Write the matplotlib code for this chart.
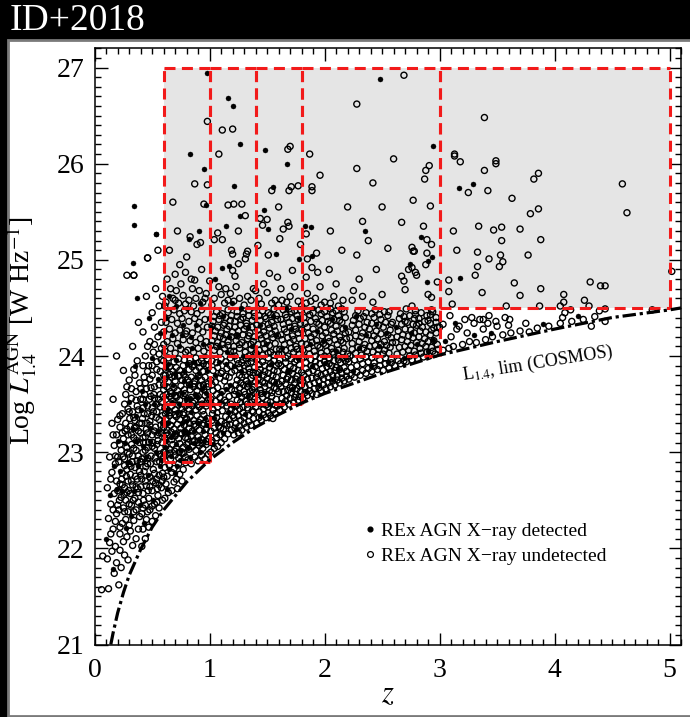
import matplotlib
matplotlib.use("Agg")
import matplotlib.pyplot as plt
from matplotlib.patches import Rectangle
from matplotlib.lines import Line2D

plt.rcParams['font.family'] = ['Liberation Serif', 'DejaVu Serif']
plt.rcParams['mathtext.fontset'] = 'stix'

# ---- radio-excess AGN: (redshift, log L1.4GHz) pairs, grouped by redshift strip ----
# X-ray undetected
und_z00 = [(0.07, 21.92), (0.11, 21.89), (0.06, 21.57), (0.12, 21.58), (0.17, 21.74), (0.15, 21.97),
           (0.19, 21.85), (0.13, 22.06), (0.18, 22.02), (0.16, 22.2), (0.12, 22.31), (0.19, 22.36),
           (0.14, 22.46), (0.17, 22.57), (0.11, 22.63), (0.19, 22.7), (0.15, 22.79), (0.18, 22.88),
           (0.13, 22.95), (0.17, 23.07), (0.19, 23.18), (0.15, 23.3), (0.19, 24.0), (0.16, 23.55),
           (0.2, 22.45), (0.2, 22.95)]
und_z02 = [(0.21, 21.62), (0.23, 21.8), (0.26, 21.93), (0.22, 21.98), (0.29, 21.88), (0.25, 22.07),
           (0.28, 22.12), (0.33, 22.03), (0.36, 22.1), (0.31, 22.18), (0.22, 22.15), (0.24, 22.26),
           (0.27, 22.3), (0.3, 22.24), (0.34, 22.29), (0.38, 22.2), (0.39, 22.33), (0.21, 22.4),
           (0.25, 22.42), (0.29, 22.38), (0.32, 22.45), (0.36, 22.4), (0.23, 22.53), (0.27, 22.5),
           (0.31, 22.57), (0.35, 22.52), (0.38, 22.58), (0.22, 22.67), (0.26, 22.63), (0.29, 22.7),
           (0.33, 22.66), (0.37, 22.72), (0.4, 22.64), (0.24, 22.78), (0.28, 22.82), (0.31, 22.77),
           (0.35, 22.84), (0.39, 22.8), (0.21, 22.9), (0.26, 22.93), (0.3, 22.88), (0.33, 22.96),
           (0.37, 22.91), (0.23, 23.02), (0.28, 23.05), (0.32, 23.08), (0.36, 23.02), (0.39, 23.1),
           (0.25, 23.14), (0.29, 23.18), (0.34, 23.15), (0.38, 23.22), (0.22, 23.26), (0.27, 23.3),
           (0.31, 23.27), (0.35, 23.33), (0.39, 23.3), (0.24, 23.4), (0.29, 23.45), (0.33, 23.42),
           (0.37, 23.48), (0.27, 23.6), (0.32, 23.56), (0.36, 23.63), (0.4, 23.55), (0.3, 23.75),
           (0.35, 23.8), (0.39, 23.72), (0.28, 24.84), (0.34, 24.84), (0.38, 24.35), (0.33, 24.1),
           (0.37, 23.95), (0.25, 23.85),
           (0.215, 22.5), (0.255, 22.56), (0.295, 22.6), (0.335, 22.5), (0.375, 22.62), (0.235, 22.72),
           (0.275, 22.75), (0.315, 22.85), (0.355, 22.75), (0.395, 22.9), (0.245, 22.95), (0.285, 23.0),
           (0.325, 22.9), (0.365, 23.12), (0.265, 23.22), (0.305, 23.35), (0.345, 23.25)]
und_z04 = [(0.41, 22.02), (0.44, 22.1), (0.47, 22.22), (0.42, 22.2), (0.5, 22.28), (0.53, 22.34),
           (0.45, 22.3), (0.48, 22.4), (0.41, 22.36), (0.56, 22.42), (0.52, 22.46), (0.44, 22.45),
           (0.59, 22.5), (0.47, 22.52), (0.55, 22.55), (0.42, 22.57), (0.5, 22.6), (0.58, 22.63),
           (0.45, 22.65), (0.53, 22.68), (0.41, 22.72), (0.48, 22.74), (0.56, 22.76), (0.43, 22.8),
           (0.51, 22.82), (0.59, 22.78), (0.46, 22.88), (0.54, 22.9), (0.41, 22.93), (0.49, 22.96),
           (0.57, 22.98), (0.44, 23.02), (0.52, 23.04), (0.6, 23.0), (0.47, 23.1), (0.55, 23.12),
           (0.42, 23.15), (0.5, 23.18), (0.58, 23.2), (0.45, 23.24), (0.53, 23.26), (0.41, 23.3),
           (0.48, 23.32), (0.56, 23.34), (0.43, 23.4), (0.51, 23.42), (0.59, 23.38), (0.46, 23.48),
           (0.54, 23.5), (0.42, 23.55), (0.49, 23.58), (0.57, 23.6), (0.45, 23.66), (0.52, 23.68),
           (0.6, 23.7), (0.43, 23.78), (0.5, 23.8), (0.57, 23.84), (0.47, 23.9), (0.54, 23.94),
           (0.44, 24.0), (0.51, 24.04), (0.58, 24.08), (0.48, 24.15), (0.55, 24.2), (0.52, 24.3),
           (0.58, 24.35), (0.5, 24.45), (0.56, 24.52), (0.45, 24.62), (0.53, 24.7), (0.59, 24.62),
           (0.46, 25.02), (0.55, 25.1), (0.42, 24.25), (0.46, 23.2), (0.54, 22.72), (0.49, 23.67),
           (0.57, 23.47),
           (0.405, 22.9), (0.445, 22.85), (0.485, 22.88), (0.525, 22.94), (0.565, 22.9), (0.425, 23.1),
           (0.465, 23.05), (0.505, 23.1), (0.545, 23.18), (0.585, 23.1), (0.415, 23.35), (0.455, 23.3),
           (0.495, 23.38), (0.535, 23.36), (0.575, 23.28), (0.435, 23.6), (0.475, 23.55), (0.515, 23.6),
           (0.555, 23.55), (0.595, 23.58), (0.425, 22.5), (0.465, 22.6), (0.505, 22.7), (0.545, 22.62),
           (0.585, 22.7)]
und_lowz = [(0.14, 22.15), (0.18, 22.28), (0.22, 22.22), (0.26, 22.38), (0.3, 22.46), (0.34, 22.38),
            (0.38, 22.48), (0.42, 22.42), (0.46, 22.38), (0.5, 22.44), (0.54, 22.48), (0.16, 22.4),
            (0.2, 22.6), (0.24, 22.66), (0.28, 22.58), (0.32, 22.7), (0.36, 22.64), (0.4, 22.76),
            (0.44, 22.7), (0.48, 22.64), (0.52, 22.78), (0.56, 22.66), (0.6, 22.74), (0.14, 22.72),
            (0.18, 22.96), (0.22, 23.08), (0.26, 22.86), (0.3, 22.98), (0.34, 23.04), (0.38, 22.96),
            (0.42, 23.0), (0.46, 22.94), (0.5, 23.06), (0.54, 23.08), (0.58, 22.96), (0.16, 23.18),
            (0.2, 23.34), (0.24, 23.2), (0.28, 23.24), (0.32, 23.18), (0.36, 23.26), (0.4, 23.2),
            (0.44, 23.16), (0.48, 23.28), (0.52, 23.22), (0.56, 23.2), (0.6, 23.3), (0.22, 23.38),
            (0.26, 23.5), (0.3, 23.42), (0.34, 23.36), (0.38, 23.44), (0.42, 23.46), (0.46, 23.4),
            (0.5, 23.46), (0.54, 23.42), (0.58, 23.52), (0.28, 23.68), (0.32, 23.66), (0.36, 23.54),
            (0.4, 23.66), (0.44, 23.72), (0.48, 23.76), (0.52, 23.56), (0.56, 23.7), (0.6, 23.8),
            (0.34, 23.86), (0.42, 23.9), (0.46, 23.84), (0.5, 23.9), (0.54, 23.86), (0.58, 23.96),
            (0.46, 24.1), (0.52, 24.12), (0.56, 24.02), (0.6, 24.12)]
und_z06 = [(0.61, 22.52), (0.64, 22.58), (0.62, 22.67), (0.67, 22.6), (0.69, 22.69), (0.63, 22.75),
           (0.67, 22.79), (0.71, 22.72), (0.74, 22.77), (0.61, 22.84), (0.65, 22.86), (0.69, 22.83),
           (0.73, 22.88), (0.77, 22.82), (0.79, 22.89), (0.76, 22.7), (0.72, 22.62),
           (0.6, 22.95), (0.63, 22.98), (0.66, 22.93), (0.7, 22.97), (0.73, 22.94), (0.76, 22.99),
           (0.79, 22.95), (0.62, 23.06), (0.65, 23.03), (0.68, 23.08), (0.71, 23.04), (0.74, 23.09),
           (0.77, 23.05), (0.8, 23.08), (0.61, 23.15), (0.64, 23.18), (0.67, 23.13), (0.7, 23.17),
           (0.73, 23.14), (0.76, 23.19), (0.79, 23.15), (0.6, 23.26), (0.63, 23.23), (0.66, 23.28),
           (0.69, 23.24), (0.72, 23.29), (0.75, 23.25), (0.78, 23.28), (0.62, 23.35), (0.65, 23.38),
           (0.68, 23.33), (0.71, 23.37), (0.74, 23.34), (0.77, 23.39), (0.8, 23.35), (0.61, 23.46),
           (0.64, 23.43), (0.67, 23.48), (0.7, 23.44), (0.73, 23.49), (0.76, 23.45), (0.79, 23.48),
           (0.62, 23.55), (0.65, 23.58), (0.68, 23.53), (0.71, 23.57), (0.74, 23.54), (0.77, 23.59),
           (0.6, 23.65), (0.63, 23.68), (0.66, 23.63), (0.69, 23.67), (0.72, 23.64), (0.75, 23.69),
           (0.78, 23.65), (0.61, 23.76), (0.64, 23.73), (0.67, 23.78), (0.7, 23.74), (0.73, 23.79),
           (0.76, 23.75), (0.79, 23.78), (0.62, 23.86), (0.65, 23.89), (0.68, 23.84), (0.71, 23.88),
           (0.74, 23.85), (0.77, 23.9), (0.6, 23.95), (0.64, 23.98), (0.69, 23.94), (0.73, 23.97),
           (0.78, 23.96), (0.61, 24.05), (0.66, 24.08), (0.7, 24.03), (0.75, 24.07), (0.79, 24.04),
           (0.63, 24.15), (0.68, 24.18), (0.72, 24.13), (0.77, 24.17), (0.6, 24.25), (0.65, 24.28),
           (0.7, 24.24), (0.74, 24.27), (0.79, 24.23), (0.62, 24.35), (0.67, 24.38), (0.72, 24.34),
           (0.76, 24.39), (0.64, 24.45), (0.69, 24.48), (0.74, 24.44), (0.78, 24.47),
           (0.62, 24.56), (0.68, 24.6), (0.73, 24.55), (0.66, 24.7), (0.71, 24.68), (0.77, 24.63),
           (0.63, 24.8), (0.7, 24.85), (0.65, 25.1), (0.72, 25.3), (0.68, 25.6),
           (0.615, 23.0), (0.655, 22.99), (0.695, 23.01), (0.735, 23.0), (0.775, 22.99),
           (0.625, 23.2), (0.665, 23.21), (0.705, 23.19), (0.745, 23.2), (0.785, 23.21),
           (0.615, 23.4), (0.655, 23.41), (0.695, 23.39), (0.735, 23.4), (0.775, 23.41),
           (0.625, 23.6), (0.665, 23.61), (0.705, 23.59), (0.745, 23.6), (0.785, 23.61),
           (0.615, 23.8), (0.655, 23.81), (0.695, 23.79), (0.735, 23.8), (0.775, 23.81)]
und_z08 = [(0.81, 22.92), (0.84, 22.88), (0.87, 22.95), (0.9, 22.91), (0.93, 22.97), (0.96, 22.93),
           (0.99, 22.98), (0.82, 23.03), (0.85, 23.06), (0.88, 23.02), (0.91, 23.07), (0.94, 23.04),
           (0.97, 23.08), (0.81, 23.14), (0.84, 23.17), (0.87, 23.12), (0.9, 23.16), (0.93, 23.13),
           (0.96, 23.18), (0.99, 23.14), (0.82, 23.25), (0.85, 23.22), (0.88, 23.27), (0.91, 23.23),
           (0.94, 23.28), (0.97, 23.24), (0.8, 23.34), (0.83, 23.37), (0.86, 23.33), (0.89, 23.38),
           (0.92, 23.34), (0.95, 23.39), (0.98, 23.35), (0.82, 23.45), (0.85, 23.48), (0.88, 23.44),
           (0.91, 23.47), (0.94, 23.43), (0.97, 23.48), (0.81, 23.54), (0.84, 23.57), (0.87, 23.53),
           (0.9, 23.58), (0.93, 23.54), (0.96, 23.59), (0.99, 23.55), (0.83, 23.65), (0.86, 23.68),
           (0.89, 23.64), (0.92, 23.69), (0.95, 23.65), (0.98, 23.68), (0.81, 23.75), (0.84, 23.78),
           (0.87, 23.74), (0.9, 23.79), (0.93, 23.75), (0.96, 23.78), (0.82, 23.86), (0.85, 23.89),
           (0.88, 23.85), (0.91, 23.88), (0.94, 23.84), (0.97, 23.9), (0.83, 23.96), (0.88, 23.98),
           (0.93, 23.95), (0.98, 23.97), (0.81, 24.06), (0.86, 24.04), (0.9, 24.08), (0.95, 24.05),
           (0.99, 24.09), (0.83, 24.16), (0.88, 24.14), (0.92, 24.18), (0.97, 24.15), (0.8, 24.26),
           (0.85, 24.24), (0.9, 24.28), (0.94, 24.25), (0.98, 24.3), (0.82, 24.36), (0.87, 24.39),
           (0.91, 24.35), (0.96, 24.38), (0.84, 24.46), (0.89, 24.44), (0.93, 24.48),
           (0.82, 24.58), (0.88, 24.6), (0.94, 24.56), (0.85, 24.7), (0.91, 24.68), (0.97, 24.65),
           (0.93, 24.9),
           (0.815, 23.1), (0.855, 23.11), (0.895, 23.1), (0.935, 23.09), (0.975, 23.11),
           (0.825, 23.3), (0.865, 23.29), (0.905, 23.31), (0.945, 23.3), (0.985, 23.29),
           (0.815, 23.5), (0.855, 23.51), (0.895, 23.49), (0.935, 23.5), (0.975, 23.51),
           (0.825, 23.7), (0.865, 23.71), (0.905, 23.69), (0.945, 23.7), (0.985, 23.71),
           (0.825, 23.92), (0.865, 23.91), (0.905, 23.93), (0.945, 23.92), (0.985, 23.91)]
und_z10 = [(1.01, 23.0), (1.04, 23.04), (1.07, 23.06), (1.1, 23.1), (1.02, 23.12), (1.06, 23.15),
           (1.09, 23.18), (1.13, 23.14), (1.16, 23.19), (1.01, 23.22), (1.04, 23.25), (1.08, 23.27),
           (1.12, 23.24), (1.15, 23.28), (1.19, 23.23), (1.02, 23.33), (1.06, 23.36), (1.1, 23.32),
           (1.14, 23.37), (1.17, 23.34), (1.2, 23.38), (1.03, 23.44), (1.07, 23.47), (1.11, 23.43),
           (1.15, 23.48), (1.19, 23.45), (1.01, 23.55), (1.05, 23.53), (1.09, 23.57), (1.13, 23.54),
           (1.17, 23.58), (1.03, 23.64), (1.07, 23.67), (1.11, 23.63), (1.15, 23.68), (1.19, 23.65),
           (1.01, 23.75), (1.05, 23.73), (1.09, 23.77), (1.13, 23.74), (1.17, 23.78), (1.03, 23.85),
           (1.07, 23.88), (1.11, 23.84), (1.15, 23.87), (1.19, 23.83), (1.02, 23.95), (1.06, 23.93),
           (1.1, 23.97), (1.14, 23.94), (1.18, 23.98), (1.04, 24.06), (1.09, 24.04), (1.13, 24.08),
           (1.18, 24.05), (1.02, 24.16), (1.07, 24.14), (1.12, 24.18), (1.16, 24.15), (1.05, 24.26),
           (1.1, 24.24), (1.15, 24.28), (1.2, 24.25), (1.03, 24.36), (1.08, 24.38), (1.13, 24.34),
           (1.18, 24.37), (1.06, 24.46), (1.11, 24.44), (1.16, 24.48), (1.04, 24.6), (1.1, 24.64),
           (1.16, 24.58), (1.08, 24.72), (1.14, 24.7),
           (1.015, 23.1), (1.055, 23.2), (1.095, 23.25), (1.135, 23.3), (1.175, 23.29), (1.025, 23.4),
           (1.065, 23.41), (1.105, 23.5), (1.145, 23.52), (1.185, 23.5), (1.02, 23.7), (1.06, 23.6),
           (1.1, 23.82), (1.14, 23.79), (1.18, 23.9)]
und_z12 = [(1.21, 23.18), (1.25, 23.2), (1.28, 23.23), (1.32, 23.26), (1.36, 23.28), (1.23, 23.3),
           (1.27, 23.33), (1.3, 23.36), (1.34, 23.32), (1.38, 23.35), (1.22, 23.42), (1.26, 23.45),
           (1.29, 23.41), (1.33, 23.46), (1.37, 23.43), (1.4, 23.47), (1.24, 23.54), (1.28, 23.57),
           (1.31, 23.53), (1.35, 23.58), (1.39, 23.55), (1.22, 23.64), (1.26, 23.67), (1.3, 23.63),
           (1.33, 23.68), (1.37, 23.65), (1.24, 23.75), (1.28, 23.78), (1.32, 23.74), (1.36, 23.77),
           (1.4, 23.73), (1.22, 23.85), (1.26, 23.88), (1.3, 23.84), (1.34, 23.87), (1.38, 23.83),
           (1.24, 23.96), (1.28, 23.93), (1.32, 23.97), (1.36, 23.94), (1.21, 24.05), (1.26, 24.08),
           (1.31, 24.04), (1.36, 24.07), (1.4, 24.03), (1.23, 24.16), (1.28, 24.14), (1.33, 24.18),
           (1.38, 24.15), (1.25, 24.26), (1.3, 24.28), (1.35, 24.24), (1.22, 24.36), (1.27, 24.38),
           (1.32, 24.34), (1.37, 24.37), (1.24, 24.46), (1.29, 24.44), (1.34, 24.48), (1.39, 24.45),
           (1.26, 24.6), (1.33, 24.62), (1.38, 24.7), (1.23, 24.72),
           (1.215, 23.6), (1.255, 23.61), (1.295, 23.7), (1.335, 23.71), (1.375, 23.8), (1.22, 24.0),
           (1.26, 23.8), (1.3, 23.9), (1.34, 24.0), (1.38, 23.62),
           (1.22, 23.25), (1.26, 23.27), (1.3, 23.3), (1.34, 23.38), (1.38, 23.42), (1.21, 23.36),
           (1.25, 23.38), (1.29, 23.47), (1.33, 23.5), (1.37, 23.52), (1.23, 23.48), (1.27, 23.52),
           (1.31, 23.6), (1.35, 23.63), (1.39, 23.68), (1.23, 23.7), (1.27, 23.72), (1.31, 23.8),
           (1.35, 23.83), (1.39, 23.88), (1.25, 23.92), (1.29, 23.96), (1.33, 23.92), (1.37, 23.98)]
und_z10_hi = [(1.01, 24.11), (1.06, 24.1), (1.11, 24.12), (1.16, 24.11), (1.21, 24.1), (1.26, 24.12),
              (1.31, 24.11), (1.36, 24.12), (1.04, 24.21), (1.09, 24.2), (1.14, 24.22), (1.19, 24.2),
              (1.24, 24.21), (1.29, 24.22), (1.34, 24.21), (1.39, 24.2), (1.02, 24.31), (1.07, 24.3),
              (1.12, 24.32), (1.17, 24.31), (1.22, 24.3), (1.27, 24.32), (1.32, 24.31), (1.37, 24.3),
              (1.04, 24.41), (1.09, 24.42), (1.14, 24.4), (1.19, 24.42), (1.24, 24.41), (1.29, 24.4),
              (1.34, 24.42), (1.39, 24.41)]
und_z14 = [(1.41, 23.3), (1.45, 23.33), (1.49, 23.36), (1.53, 23.38), (1.57, 23.4), (1.43, 23.42),
           (1.47, 23.45), (1.51, 23.47), (1.55, 23.44), (1.59, 23.48), (1.42, 23.54), (1.46, 23.57),
           (1.5, 23.53), (1.54, 23.58), (1.58, 23.55), (1.44, 23.65), (1.48, 23.68), (1.52, 23.64),
           (1.56, 23.67), (1.6, 23.63), (1.42, 23.76), (1.46, 23.73), (1.5, 23.77), (1.54, 23.74),
           (1.58, 23.78), (1.44, 23.86), (1.48, 23.84), (1.52, 23.88), (1.56, 23.85), (1.41, 23.96),
           (1.46, 23.94), (1.51, 23.98), (1.56, 23.95), (1.6, 23.92), (1.43, 24.06), (1.48, 24.08),
           (1.53, 24.04), (1.58, 24.07), (1.45, 24.18), (1.5, 24.15), (1.55, 24.19), (1.42, 24.27),
           (1.47, 24.25), (1.52, 24.29), (1.57, 24.26), (1.44, 24.37), (1.49, 24.39), (1.54, 24.35),
           (1.59, 24.38), (1.46, 24.47), (1.51, 24.45), (1.56, 24.49), (1.43, 24.6), (1.5, 24.66),
           (1.57, 24.58), (1.47, 24.75),
           (1.43, 23.36), (1.47, 23.39), (1.51, 23.41), (1.55, 23.35), (1.45, 23.5), (1.49, 23.49),
           (1.53, 23.52), (1.57, 23.49), (1.41, 23.62), (1.45, 23.61), (1.5, 23.6), (1.54, 23.62),
           (1.58, 23.66), (1.43, 23.7), (1.48, 23.72), (1.52, 23.7), (1.56, 23.73), (1.6, 23.71),
           (1.42, 23.83), (1.47, 23.8), (1.51, 23.82), (1.55, 23.8), (1.59, 23.84), (1.43, 23.91),
           (1.48, 23.9), (1.53, 23.92), (1.58, 23.9), (1.41, 24.02), (1.46, 24.01), (1.51, 24.03),
           (1.56, 24.01), (1.6, 24.02), (1.42, 24.12), (1.47, 24.13), (1.52, 24.11), (1.57, 24.13),
           (1.44, 24.22), (1.49, 24.21), (1.54, 24.23), (1.59, 24.21), (1.41, 24.32), (1.46, 24.31),
           (1.51, 24.33), (1.56, 24.31), (1.43, 24.42), (1.48, 24.41), (1.53, 24.43), (1.58, 24.42)]
und_z16 = [(1.61, 23.44), (1.65, 23.47), (1.69, 23.5), (1.73, 23.52), (1.77, 23.54), (1.63, 23.56),
           (1.67, 23.59), (1.71, 23.62), (1.75, 23.6), (1.79, 23.63), (1.62, 23.68), (1.66, 23.71),
           (1.7, 23.67), (1.74, 23.72), (1.78, 23.69), (1.64, 23.8), (1.68, 23.78), (1.72, 23.82),
           (1.76, 23.79), (1.8, 23.83), (1.62, 23.9), (1.66, 23.93), (1.7, 23.89), (1.74, 23.94),
           (1.78, 23.91), (1.63, 24.02), (1.68, 24.0), (1.73, 24.04), (1.78, 24.02), (1.65, 24.12),
           (1.7, 24.14), (1.75, 24.1), (1.8, 24.13), (1.62, 24.22), (1.67, 24.25), (1.72, 24.21),
           (1.77, 24.24), (1.64, 24.33), (1.69, 24.35), (1.74, 24.31), (1.79, 24.34), (1.66, 24.43),
           (1.71, 24.46), (1.76, 24.42), (1.63, 24.58), (1.7, 24.62), (1.77, 24.57), (1.74, 24.72),
           (1.62, 23.5), (1.66, 23.53), (1.7, 23.56), (1.74, 23.57), (1.78, 23.58), (1.64, 23.63),
           (1.68, 23.64), (1.72, 23.67), (1.76, 23.66), (1.8, 23.7), (1.63, 23.74), (1.67, 23.76),
           (1.71, 23.75), (1.75, 23.76), (1.79, 23.75), (1.65, 23.86), (1.69, 23.84), (1.73, 23.87),
           (1.77, 23.85), (1.61, 23.96), (1.66, 23.98), (1.71, 23.97), (1.76, 23.96), (1.8, 23.98),
           (1.61, 24.07), (1.66, 24.06), (1.71, 24.08), (1.76, 24.07), (1.63, 24.17), (1.68, 24.19),
           (1.73, 24.17), (1.78, 24.18), (1.65, 24.28), (1.7, 24.3), (1.75, 24.28), (1.8, 24.27),
           (1.62, 24.38), (1.67, 24.4), (1.72, 24.39), (1.77, 24.38), (1.64, 24.48), (1.69, 24.49),
           (1.74, 24.47), (1.79, 24.48)]
und_z18 = [(1.81, 23.56), (1.85, 23.59), (1.89, 23.61), (1.93, 23.6), (1.97, 23.64), (2.01, 23.66),
           (2.05, 23.68), (2.09, 23.7), (2.13, 23.72), (2.17, 23.74), (1.83, 23.68), (1.87, 23.7),
           (1.91, 23.72), (1.95, 23.74), (1.99, 23.76), (2.03, 23.78), (2.07, 23.8), (2.11, 23.79),
           (2.15, 23.82), (2.19, 23.84), (1.82, 23.8), (1.86, 23.83), (1.9, 23.85), (1.94, 23.82),
           (1.98, 23.87), (2.02, 23.89), (2.06, 23.9), (2.1, 23.88), (2.14, 23.93), (2.18, 23.95),
           (1.84, 23.93), (1.88, 23.96), (1.92, 23.94), (1.96, 23.98), (2.0, 24.0), (2.04, 23.97),
           (2.08, 24.02), (2.12, 24.0), (2.16, 24.04), (2.2, 24.02), (1.81, 24.06), (1.86, 24.08),
           (1.91, 24.05), (1.96, 24.09), (2.01, 24.11), (2.06, 24.08), (2.11, 24.12), (2.16, 24.14),
           (1.83, 24.18), (1.88, 24.2), (1.93, 24.16), (1.98, 24.21), (2.03, 24.19), (2.08, 24.23),
           (2.13, 24.2), (2.18, 24.24), (1.85, 24.3), (1.9, 24.28), (1.95, 24.33), (2.0, 24.3),
           (2.05, 24.34), (2.1, 24.31), (2.15, 24.35), (1.82, 24.4), (1.87, 24.43), (1.92, 24.39),
           (1.97, 24.44), (2.02, 24.41), (2.07, 24.45), (2.12, 24.42), (2.17, 24.46),
           (1.84, 24.55), (1.92, 24.6), (2.0, 24.56), (2.08, 24.62), (2.16, 24.58), (1.96, 24.72),
           (2.1, 24.75), (2.04, 24.9), (2.15, 25.1), (2.05, 25.3), (2.2, 25.55),
           (1.83, 23.62), (1.87, 23.64), (1.91, 23.66), (1.95, 23.67), (1.99, 23.7), (2.03, 23.72),
           (2.07, 23.74), (2.11, 23.75), (2.15, 23.77), (2.19, 23.79), (1.81, 23.74), (1.85, 23.76),
           (1.89, 23.77), (1.93, 23.78), (1.97, 23.8), (2.01, 23.82), (2.05, 23.84), (2.09, 23.85),
           (2.13, 23.86), (2.17, 23.88), (1.84, 23.87), (1.88, 23.9), (1.92, 23.89), (1.96, 23.92),
           (2.0, 23.94), (2.04, 23.92), (2.08, 23.95), (2.12, 23.96), (2.16, 23.98), (2.2, 23.97),
           (1.82, 23.99), (1.87, 24.02), (1.92, 24.0), (1.97, 24.03), (2.02, 24.05), (2.07, 24.04),
           (2.12, 24.06), (2.17, 24.08), (1.84, 24.12), (1.89, 24.14), (1.94, 24.11), (1.99, 24.13),
           (2.04, 24.15), (2.09, 24.17), (2.14, 24.16), (2.19, 24.18), (1.86, 24.24), (1.91, 24.23),
           (1.96, 24.26), (2.01, 24.24), (2.06, 24.27), (2.11, 24.26), (2.16, 24.28), (1.83, 24.34),
           (1.88, 24.36), (1.93, 24.35), (1.98, 24.37), (2.03, 24.36), (2.08, 24.38), (2.13, 24.37),
           (2.18, 24.4), (1.85, 24.47), (1.9, 24.45), (1.95, 24.48), (2.0, 24.46), (2.05, 24.49),
           (2.1, 24.47), (2.15, 24.49)]
und_z22 = [(2.21, 23.76), (2.26, 23.78), (2.31, 23.8), (2.36, 23.82), (2.41, 23.84), (2.46, 23.86),
           (2.51, 23.85), (2.56, 23.88), (2.23, 23.88), (2.28, 23.9), (2.33, 23.92), (2.38, 23.94),
           (2.43, 23.93), (2.48, 23.96), (2.53, 23.98), (2.58, 23.97), (2.22, 24.0), (2.27, 24.03),
           (2.32, 24.01), (2.37, 24.05), (2.42, 24.04), (2.47, 24.07), (2.52, 24.06), (2.57, 24.09),
           (2.24, 24.13), (2.3, 24.15), (2.35, 24.12), (2.41, 24.16), (2.46, 24.18), (2.52, 24.15),
           (2.58, 24.19), (2.21, 24.25), (2.27, 24.27), (2.33, 24.24), (2.39, 24.28), (2.45, 24.26),
           (2.51, 24.3), (2.57, 24.27), (2.25, 24.37), (2.31, 24.39), (2.37, 24.35), (2.43, 24.4),
           (2.49, 24.38), (2.55, 24.42), (2.29, 24.47), (2.36, 24.45), (2.44, 24.48), (2.52, 24.46),
           (2.59, 24.35), (2.24, 24.58), (2.33, 24.62), (2.42, 24.56), (2.5, 24.64), (2.3, 24.8),
           (2.45, 24.9), (2.28, 25.05), (2.38, 25.2), (2.55, 25.12), (2.33, 25.4), (2.5, 25.55),
           (2.42, 25.8), (2.28, 25.95), (2.6, 26.05), (2.28, 26.62), (2.69, 26.92),
           (2.23, 23.8), (2.28, 23.83), (2.33, 23.85), (2.38, 23.87), (2.43, 23.89), (2.48, 23.9),
           (2.53, 23.92), (2.58, 23.93), (2.21, 23.94), (2.26, 23.96), (2.31, 23.97), (2.36, 23.99),
           (2.41, 23.98), (2.46, 24.01), (2.51, 24.02), (2.56, 24.03), (2.24, 24.07), (2.29, 24.09),
           (2.34, 24.08), (2.39, 24.1), (2.44, 24.11), (2.49, 24.12), (2.54, 24.11), (2.59, 24.14),
           (2.22, 24.19), (2.27, 24.21), (2.32, 24.2), (2.38, 24.22), (2.43, 24.21), (2.49, 24.23),
           (2.55, 24.22), (2.24, 24.32), (2.3, 24.33), (2.35, 24.3), (2.41, 24.34), (2.47, 24.32),
           (2.53, 24.35), (2.58, 24.33), (2.27, 24.42), (2.34, 24.41), (2.41, 24.44), (2.48, 24.43),
           (2.56, 24.46)]
und_z26 = [(2.61, 23.9), (2.66, 23.92), (2.71, 23.94), (2.76, 23.96), (2.81, 23.97), (2.86, 23.99),
           (2.91, 24.0), (2.96, 24.02), (2.63, 24.02), (2.68, 24.04), (2.73, 24.06), (2.78, 24.05),
           (2.83, 24.08), (2.88, 24.1), (2.93, 24.09), (2.98, 24.12), (2.62, 24.14), (2.67, 24.17),
           (2.72, 24.15), (2.77, 24.19), (2.82, 24.2), (2.87, 24.18), (2.92, 24.22), (2.97, 24.24),
           (2.64, 24.26), (2.7, 24.28), (2.75, 24.27), (2.85, 24.3), (2.95, 24.29), (2.66, 24.44),
           (2.74, 24.42), (2.84, 24.45), (2.97, 24.4),
           (2.64, 23.95), (2.69, 23.95), (2.74, 24.0), (2.79, 24.01), (2.84, 24.03), (2.89, 24.04),
           (2.94, 24.05), (2.99, 24.07), (2.65, 24.09), (2.7, 24.1), (2.75, 24.11), (2.8, 24.14),
           (2.85, 24.13), (2.9, 24.15), (2.95, 24.16), (2.63, 24.2), (2.68, 24.22), (2.73, 24.21),
           (2.78, 24.24), (2.83, 24.26), (2.88, 24.25), (2.93, 24.27), (2.98, 24.3), (2.67, 24.33),
           (2.72, 24.35), (2.77, 24.33), (2.82, 24.34), (2.87, 24.36), (2.92, 24.34), (2.97, 24.35),
           (2.69, 24.41), (2.79, 24.43), (2.89, 24.42), (2.94, 24.46)]
und_z30 = [(3.03, 24.06), (3.08, 24.08), (3.12, 24.1), (3.2, 24.12), (3.26, 24.15), (3.32, 24.14),
           (3.4, 24.17), (3.46, 24.2), (3.55, 24.22), (3.62, 24.24), (3.7, 24.26), (3.78, 24.25),
           (3.85, 24.29), (3.95, 24.31), (4.05, 24.34), (4.15, 24.36), (4.25, 24.38), (4.35, 24.41),
           (3.1, 24.2), (3.24, 24.24), (3.15, 24.28), (3.38, 24.28), (3.6, 24.32), (3.75, 24.34)]
und_edge = [(0.61, 24.52), (0.7, 24.58), (0.79, 24.54), (0.86, 24.52), (0.96, 24.6), (1.02, 24.53),
            (1.13, 24.55), (1.21, 24.57), (1.3, 24.53), (1.36, 24.58), (1.45, 24.54), (1.54, 24.55),
            (1.6, 24.53), (1.67, 24.56), (1.8, 24.52), (1.88, 24.57), (1.97, 24.53), (2.05, 24.55),
            (2.12, 24.52), (0.75, 24.75), (1.0, 24.78), (1.18, 24.65), (1.4, 24.68), (1.62, 24.7),
            (1.85, 24.65), (2.25, 24.68)]
und_upper = [(0.98, 26.44), (1.11, 26.35), (1.20, 26.36), (1.08, 26.10), (1.68, 26.15), (1.70, 26.18),
             (1.87, 26.10), (1.96, 25.88), (0.87, 25.79), (0.98, 25.78), (0.95, 25.58), (1.16, 25.57),
             (1.21, 25.58), (1.28, 25.58), (1.31, 25.46), (1.60, 25.55), (1.44, 25.43), (1.50, 25.42),
             (1.46, 25.36), (1.64, 25.32), (1.68, 25.39), (1.69, 25.35), (1.71, 25.76), (1.77, 25.77),
             (1.69, 25.72), (1.54, 25.72), (1.89, 25.76), (1.89, 25.72), (0.46, 25.02), (0.34, 24.84),
             (0.74, 24.95), (0.80, 25.03), (0.79, 24.87), (0.84, 24.80), (0.87, 24.79), (0.83, 25.24),
             (0.89, 25.16), (0.92, 25.18), (1.07, 25.28), (1.04, 25.21), (1.11, 25.21), (1.25, 25.30),
             (1.19, 25.10), (1.20, 25.06), (1.33, 25.09), (1.32, 25.06), (1.31, 25.01), (1.25, 24.96),
             (1.20, 24.89), (1.22, 24.83), (1.42, 25.15), (1.51, 25.05), (1.61, 25.22), (1.79, 25.16),
             (1.84, 25.27), (1.93, 25.07), (1.85, 25.01), (1.89, 24.92), (1.84, 24.82), (1.72, 24.89),
             (1.52, 24.86), (1.59, 24.82), (1.94, 24.87),
             (3.39, 26.48), (3.13, 26.10), (3.13, 26.08), (3.18, 26.02), (3.49, 26.03), (3.49, 26.00),
             (3.39, 25.93), (2.91, 25.98), (2.88, 25.93), (2.87, 25.84), (3.86, 25.90), (3.82, 25.84),
             (3.25, 25.70), (3.42, 25.72), (3.63, 25.64), (2.77, 25.62), (2.92, 25.56), (4.59, 25.79),
             (4.63, 25.49), (3.79, 25.48), (3.86, 25.53), (2.67, 25.39), (2.86, 25.35), (2.89, 25.21),
             (2.93, 25.16), (3.34, 25.35), (3.12, 25.30), (3.47, 25.31), (3.54, 25.34), (3.70, 25.32),
             (3.54, 25.20), (3.88, 25.21), (3.15, 25.10), (3.33, 25.08), (3.53, 25.05), (3.77, 25.05),
             (2.76, 25.13), (2.77, 25.09), (2.78, 25.09), (2.89, 25.07), (2.88, 24.95), (3.43, 25.01),
             (3.55, 24.98), (3.52, 24.93), (3.33, 24.93), (3.31, 24.84), (2.76, 24.92), (2.73, 24.90),
             (2.79, 24.87), (2.80, 24.84), (2.67, 24.83), (2.69, 24.78), (2.70, 24.69), (2.98, 24.77),
             (3.08, 24.79), (3.08, 24.67), (3.37, 24.66), (3.65, 24.76), (3.70, 24.63), (3.88, 24.70),
             (4.31, 24.77), (4.40, 24.73), (4.44, 24.73), (2.90, 24.64), (2.93, 24.61), (3.11, 24.54),
             (3.58, 24.52), (4.08, 24.64), (4.08, 24.56), (4.26, 24.58), (4.30, 24.52), (3.87, 24.52),
             (5.02, 24.88),
             (4.05, 24.52), (4.07, 24.40), (4.09, 24.45), (4.14, 24.48), (4.39, 24.47), (4.44, 24.49),
             (4.44, 24.36), (4.32, 24.31), (4.85, 24.48), (2.71, 24.49), (2.76, 24.52), (2.79, 24.47),
             (2.78, 24.39), (2.82, 24.39), (2.93, 24.48), (2.92, 24.43), (2.90, 24.37), (2.80, 24.32),
             (2.70, 24.36), (2.65, 24.39), (3.09, 24.42), (3.17, 24.31), (3.22, 24.38), (3.28, 24.40),
             (3.30, 24.34), (3.35, 24.38), (3.38, 24.38), (3.43, 24.42), (3.42, 24.34), (3.49, 24.36),
             (3.50, 24.31), (3.57, 24.40), (3.61, 24.38), (3.03, 24.33), (3.00, 24.30)]

# X-ray detected
det_low = [(0.16, 21.79), (0.1, 22.1), (0.13, 22.55), (0.19, 22.62), (0.17, 22.86), (0.2, 23.12),
           (0.27, 22.21), (0.32, 22.34), (0.24, 22.6), (0.34, 22.6), (0.29, 22.9), (0.38, 22.86),
           (0.26, 23.1), (0.33, 23.24), (0.3, 23.52), (0.36, 23.38), (0.35, 23.9), (0.33, 24.97),
           (0.37, 24.6), (0.22, 22.8), (0.39, 22.45),
           (0.43, 22.26), (0.51, 22.5), (0.46, 22.76), (0.57, 22.86), (0.42, 23.06), (0.53, 23.0),
           (0.48, 23.25), (0.59, 23.3), (0.44, 23.5), (0.55, 23.76), (0.5, 23.98), (0.57, 24.24),
           (0.53, 25.27), (0.47, 24.4), (0.41, 23.64)]
det_core = [(0.61, 23.05), (0.66, 23.16), (0.71, 23.08), (0.76, 23.3), (0.81, 23.04), (0.86, 23.22),
            (0.91, 23.14), (0.96, 23.36), (0.63, 23.44), (0.68, 23.6), (0.73, 23.5), (0.78, 23.74),
            (0.83, 23.56), (0.88, 23.78), (0.93, 23.66), (0.98, 23.84), (0.62, 23.88), (0.71, 23.96),
            (0.8, 23.92), (0.89, 23.58), (0.94, 23.22), (0.65, 22.82), (0.72, 22.86), (0.58, 22.92),
            (0.55, 23.22), (0.52, 23.5), (0.48, 23.12), (0.45, 22.95), (0.4, 23.44), (0.36, 23.12),
            (1.04, 23.36), (1.09, 23.52), (1.14, 23.66), (1.2, 23.48), (1.27, 23.84), (1.33, 23.58),
            (1.08, 23.94), (1.15, 24.04), (0.85, 24.08), (0.76, 24.22)]
det_mid = [(0.63, 22.62), (0.7, 22.78), (0.66, 22.96), (0.75, 23.02), (0.62, 23.12), (0.69, 23.2),
           (0.78, 23.22), (0.64, 23.3), (0.72, 23.42), (0.79, 23.32), (0.67, 23.52), (0.76, 23.62),
           (0.61, 23.7), (0.7, 23.82), (0.78, 23.84), (0.64, 23.92), (0.73, 24.1), (0.67, 24.22),
           (0.77, 24.32), (0.62, 24.4), (0.71, 24.52), (0.74, 22.92), (0.79, 23.55), (0.68, 23.7),
           (0.65, 24.62),
           (0.83, 22.95), (0.92, 23.0), (0.86, 23.1), (0.95, 23.12), (0.81, 23.2), (0.9, 23.3),
           (0.98, 23.28), (0.84, 23.42), (0.93, 23.5), (0.87, 23.6), (0.97, 23.62), (0.82, 23.7),
           (0.91, 23.82), (0.86, 23.94), (0.96, 24.0), (0.84, 24.2), (0.94, 24.12), (0.88, 24.32),
           (0.99, 24.4), (0.92, 24.55), (0.8, 24.5),
           (1.03, 23.08), (1.12, 23.2), (1.06, 23.3), (1.16, 23.42), (1.02, 23.5), (1.1, 23.62),
           (1.18, 23.7), (1.05, 23.8), (1.14, 23.92), (1.08, 24.1), (1.17, 24.2), (1.01, 24.3),
           (1.12, 24.42), (1.19, 24.55),
           (1.23, 23.24), (1.31, 23.4), (1.38, 23.5), (1.25, 23.6), (1.34, 23.72), (1.21, 23.9),
           (1.29, 24.0), (1.37, 24.1), (1.24, 24.22), (1.33, 24.3), (1.27, 24.5)]
det_high = [(1.44, 23.38), (1.52, 23.5), (1.47, 23.62), (1.57, 23.72), (1.43, 23.8), (1.53, 23.92),
            (1.49, 24.12), (1.58, 24.22), (1.44, 24.32), (1.55, 24.42),
            (1.64, 23.52), (1.72, 23.66), (1.68, 23.84), (1.77, 23.98), (1.63, 24.08), (1.71, 24.28),
            (1.78, 24.4), (1.66, 24.5),
            (1.84, 23.64), (1.95, 23.7), (2.06, 23.76), (1.89, 23.9), (2.0, 23.93), (2.12, 23.86),
            (1.87, 24.12), (1.99, 24.16), (2.1, 24.05), (1.93, 24.26), (2.06, 24.38), (2.18, 24.3),
            (1.9, 24.5), (2.25, 23.84), (2.4, 23.9), (2.55, 23.94), (2.3, 24.08), (2.47, 24.1),
            (2.36, 24.22), (2.53, 24.24), (2.27, 24.42), (2.45, 24.33), (2.48, 26.88), (2.35, 25.3),
            (2.69, 23.98), (2.8, 24.12), (2.9, 24.05), (2.75, 24.24), (2.94, 24.17), (2.62, 24.3),
            (3.05, 24.16), (3.45, 24.24), (3.9, 24.33), (4.2, 24.42), (3.3, 24.22)]
det_upper = [(0.98, 26.94), (1.16, 26.68), (1.20, 26.60), (1.26, 26.20), (0.83, 26.10), (0.95, 25.95),
             (1.21, 25.77), (1.48, 26.14), (1.67, 26.00), (1.55, 25.76), (0.34, 25.56), (0.34, 25.36),
             (0.53, 25.27), (0.97, 25.57), (1.26, 25.46), (1.14, 25.35), (0.91, 25.30), (0.82, 25.22),
             (1.51, 25.32), (1.47, 25.52), (1.83, 25.35), (1.88, 25.34), (1.58, 25.06), (1.11, 24.92),
             (1.17, 24.94), (1.05, 24.80), (1.89, 25.04), (1.78, 25.01), (2.94, 26.18), (3.17, 25.75),
             (3.29, 25.79), (2.84, 25.24), (2.93, 25.03), (2.90, 24.99), (2.74, 24.96), (3.18, 24.81),
             (2.89, 24.77), (3.13, 24.34)]

# COSMOS 1.4 GHz luminosity limit
z_lim = [0.14, 0.16, 0.2, 0.25, 0.3, 0.4, 0.5, 0.6, 0.8, 1.0, 1.2, 1.4, 1.6, 1.8, 2.0,
         2.5, 3.0, 3.5, 4.0, 4.5, 5.0, 5.1]
L_lim = [21.00, 21.12, 21.33, 21.54, 21.72, 21.99, 22.22, 22.40, 22.69, 22.92, 23.10, 23.26,
         23.39, 23.51, 23.61, 23.82, 24.01, 24.15, 24.28, 24.40, 24.48, 24.50]

# selection bins: redshift and luminosity edges, shaded or not
bin_z_lo = [0.6, 1.0, 1.4, 1.8, 3.0, 0.6, 1.0, 1.4, 1.8, 0.6, 1.0, 1.4, 0.6]
bin_z_hi = [1.0, 1.4, 1.8, 3.0, 5.0, 1.0, 1.4, 1.8, 3.0, 1.0, 1.4, 1.8, 1.0]
bin_L_lo = [24.5, 24.5, 24.5, 24.5, 24.5, 24.0, 24.0, 24.0, 24.0, 23.5, 23.5, 23.5, 22.9]
bin_L_hi = [27.0, 27.0, 27.0, 27.0, 27.0, 24.5, 24.5, 24.5, 24.5, 24.0, 24.0, 24.0, 23.5]
bin_shaded = [True] * 9 + [False] * 4


def unzip(*groups):
    zs, ls = [], []
    for g in groups:
        for z, l in g:
            zs.append(z)
            ls.append(l)
    return zs, ls


z_und, L_und = unzip(und_z00, und_z02, und_z04, und_lowz, und_z06, und_z08, und_z10, und_z12,
                     und_z10_hi, und_z14, und_z16, und_z18, und_z22, und_z26, und_z30, und_edge,
                     und_upper)
z_det, L_det = unzip(det_low, det_core, det_mid, det_high, det_upper)

W, H = 690, 717
fig = plt.figure(figsize=(W / 100, H / 100), dpi=100, facecolor='black')

# white panel with grey border
fig.patches.append(Rectangle((8 / W, 1.5 / H), 1.0, (716 - 40) / H, transform=fig.transFigure,
                             facecolor='white', edgecolor='#7a7a7a', linewidth=2, zorder=-5))
fig.text(10 / W, 1 - 3 / H, 'ID+2018', color='white', fontsize=27, va='top', ha='left')

ax = fig.add_axes([94.7 / W, 1 - 644.5 / H, (681 - 94.7) / W, (644.5 - 48.3) / H])
ax.set_facecolor('none')
ax.set_xlim(0, 5.1)
ax.set_ylim(21, 27.2)

red = '#f21a1a'
for zl, zh, ll, lh, sh in zip(bin_z_lo, bin_z_hi, bin_L_lo, bin_L_hi, bin_shaded):
    if sh:
        ax.add_patch(Rectangle((zl, ll), zh - zl, lh - ll, facecolor='#e5e5e5',
                               edgecolor='none', zorder=0))
for zl, zh, ll, lh in zip(bin_z_lo, bin_z_hi, bin_L_lo, bin_L_hi):
    for xs, ys in (([zl, zh], [ll, ll]), ([zl, zh], [lh, lh]),
                   ([zl, zl], [ll, lh]), ([zh, zh], [ll, lh])):
        ax.plot(xs, ys, color=red, lw=2.2, ls=(0, (3.6, 2.1)), zorder=4,
                solid_capstyle='butt', dash_capstyle='butt')

ax.scatter(z_und, L_und, s=19, facecolors='none', edgecolors='black', linewidths=1.0, zorder=2)
ax.scatter(z_det, L_det, s=13, facecolors='black', edgecolors='black', linewidths=0.3, zorder=3)

ax.plot(z_lim, L_lim, color='black', lw=2.3, ls=(0, (4.2, 1.2, 1.0, 1.2)), zorder=5)
ax.text(3.2, 23.75, r'L$_{1.4}$, lim (COSMOS)', fontsize=13, rotation=9,
        rotation_mode='anchor', ha='left', va='baseline')

ax.set_xticks([0, 1, 2, 3, 4, 5])
ax.set_yticks([21, 22, 23, 24, 25, 26, 27])
ax.set_xticks([i / 10 for i in range(0, 52)], minor=True)
ax.set_yticks([21 + i / 10 for i in range(0, 63)], minor=True)
ax.tick_params(which='both', direction='in', top=True, right=True, labelsize=20, width=1)
ax.tick_params(which='major', length=9)
ax.tick_params(which='minor', length=4.5)
ax.tick_params(axis='x', which='major', pad=10)
ax.tick_params(axis='y', which='major', pad=7)
for sp in ax.spines.values():
    sp.set_linewidth(1.1)

ax.set_xlabel(r'$z$', fontsize=22, labelpad=-2)
ax.set_ylabel(r'Log $L^{\rm AGN}_{1.4}$ [W Hz$^{-1}$]', fontsize=20)
ax.yaxis.set_label_coords(-0.095, 0.526)

handles = [Line2D([], [], ls='none', marker='o', ms=3.4, mfc='black', mec='black'),
           Line2D([], [], ls='none', marker='o', ms=4.2, mfc='none', mec='black', mew=0.9)]
ax.legend(handles, ['REx AGN X\u2212ray detected', 'REx AGN X\u2212ray undetected'],
          loc='upper left', bbox_to_anchor=(0.459, 0.2055), frameon=False, fontsize=14,
          handlelength=0.6, handletextpad=0.3, labelspacing=0.4, borderpad=0,
          borderaxespad=0)

fig.savefig('out.png', dpi=100, facecolor='black')
